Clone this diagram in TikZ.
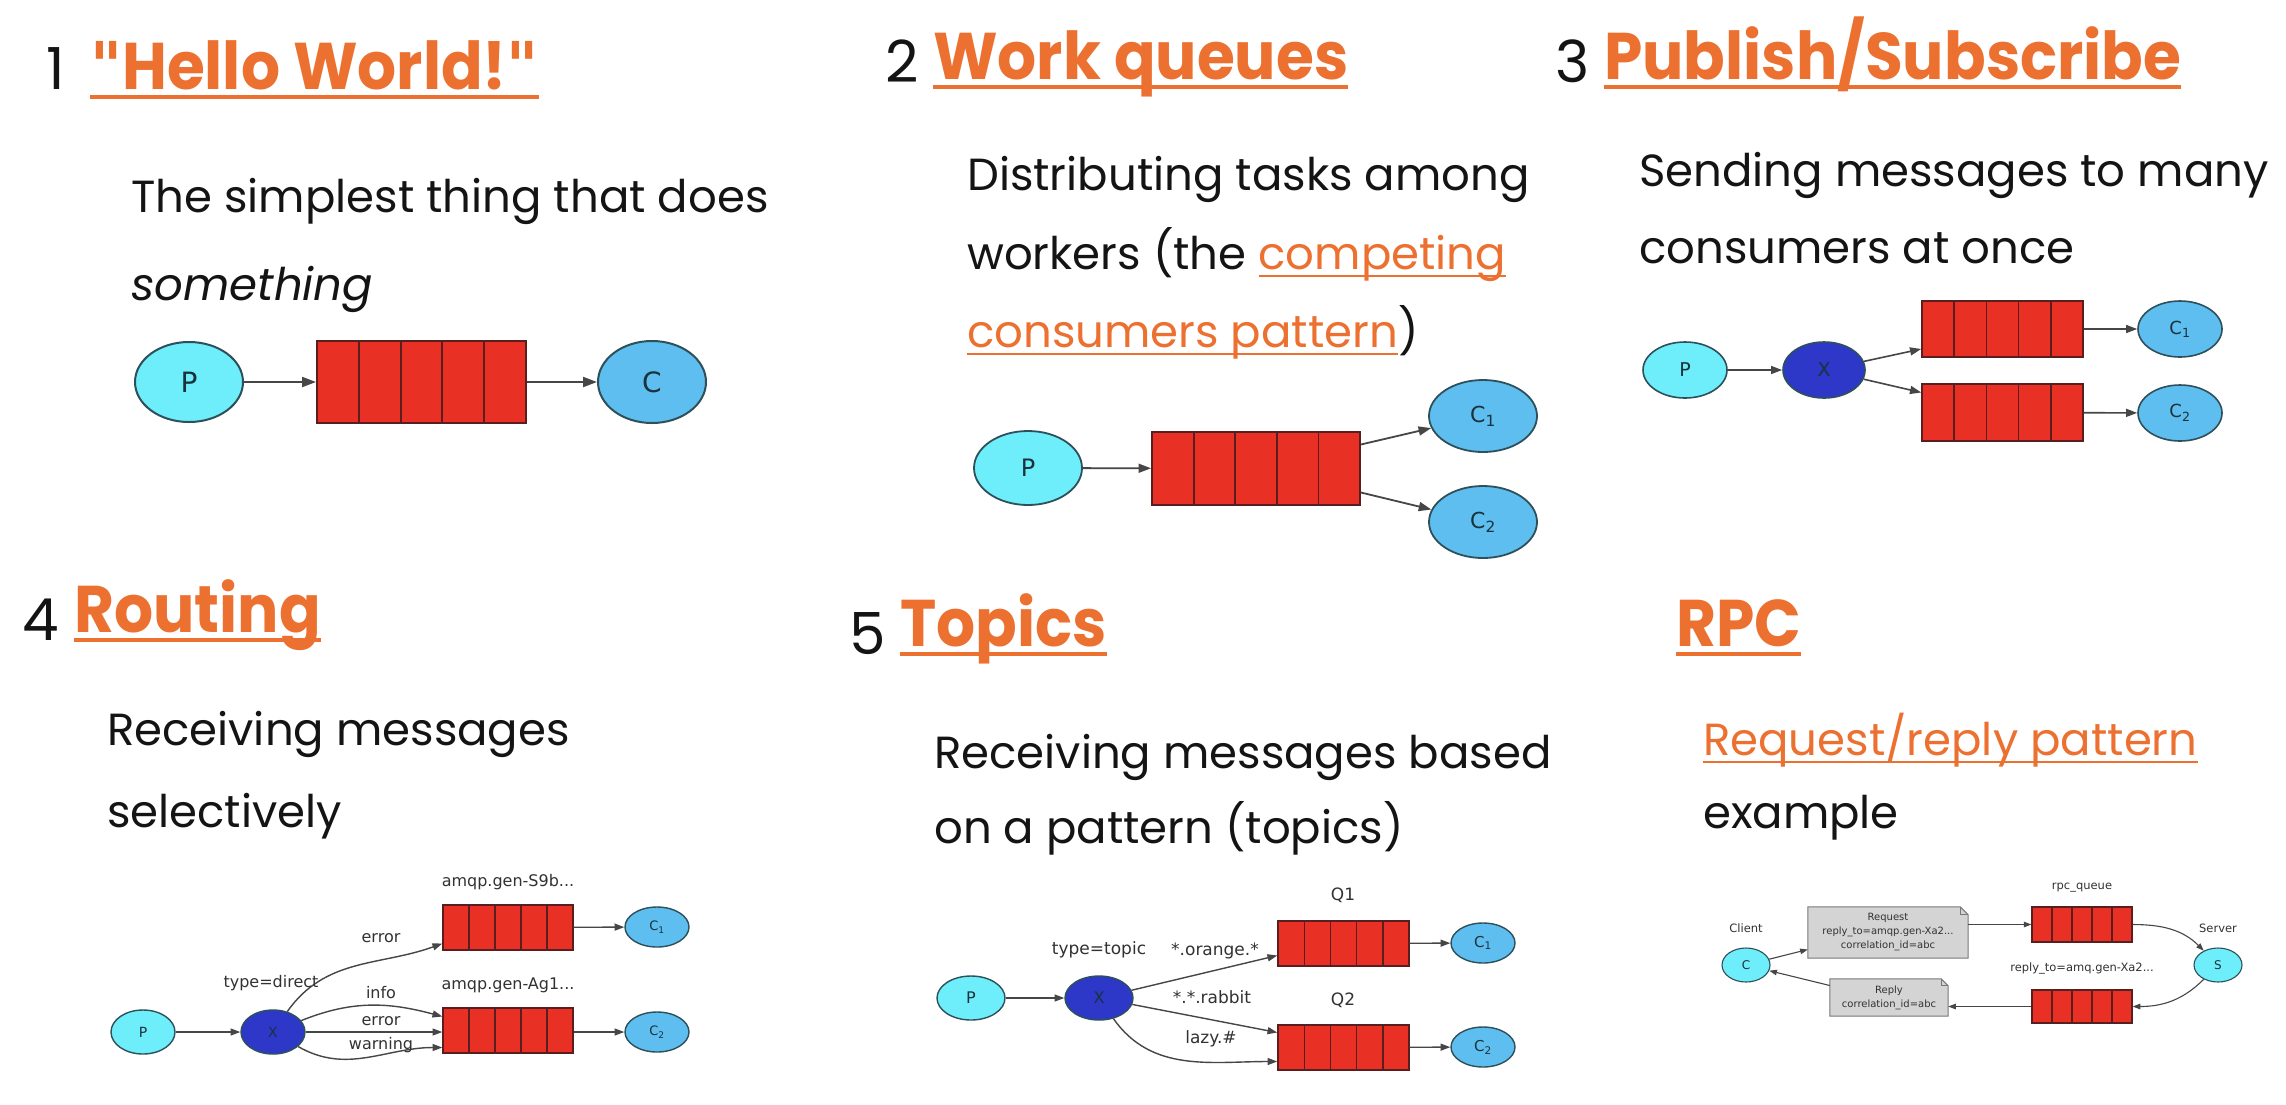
\documentclass[tikz,border=0pt]{standalone}
\usepackage{graphicx}
\usepackage{fontspec}
\setmainfont{Poppins}
\newfontfamily\gv{DejaVu Sans}
\usetikzlibrary{shapes.geometric,arrows.meta,calc}
\pgfdeclarelayer{background}
\pgfsetlayers{background,main}
\definecolor{rmqorange}{RGB}{236,112,48}
\definecolor{bodytext}{RGB}{20,20,20}
\definecolor{pfill}{RGB}{110,238,250}
\definecolor{cfill}{RGB}{95,190,240}
\definecolor{xfill}{RGB}{45,55,200}
\definecolor{qfill}{RGB}{232,48,36}
\definecolor{qline}{RGB}{90,30,30}
\definecolor{eline}{RGB}{45,80,90}
\definecolor{edgec}{RGB}{70,70,70}
\definecolor{notefill}{RGB}{212,212,212}
\definecolor{noteline}{RGB}{120,120,120}
\definecolor{gvtext}{RGB}{25,50,60}
\definecolor{lbltext}{RGB}{50,50,50}
\newcommand\ultitle[1]{\scalebox{0.93}[1]{\color{rmqorange}\bfseries\setbox0=\hbox{#1}\rlap{\rule[-10pt]{\wd0}{4.5pt}}\box0}}
\newcommand\ulink[1]{{\color{rmqorange}\setbox0=\hbox{#1}\rlap{\rule[-8pt]{\wd0}{2.5pt}}\box0}}
\newcommand\drawnote[2]{%
  \begin{pgfonlayer}{background}
  \filldraw[fill=notefill, draw=noteline, line width=1pt] (#1.south west) -- (#1.north west) -- ([xshift=-#2]#1.north east) -- ([yshift=-#2]#1.north east) -- (#1.south east) -- cycle;
  \draw[noteline, line width=1pt] ([xshift=-#2]#1.north east) -- ([xshift=-#2,yshift=-#2]#1.north east) -- ([yshift=-#2]#1.north east);
  \end{pgfonlayer}}
\tikzset{
  num/.style={anchor=base west, inner sep=0pt, text=bodytext, font=\fontsize{58}{62}\selectfont},
  title/.style={anchor=base west, inner sep=0pt, font=\fontsize{66}{70}\selectfont},
  body/.style={anchor=base west, inner sep=0pt, text=bodytext, font=\fontsize{45}{52}\selectfont},
  ell/.style={ellipse, draw=eline, line width=#1, inner sep=0pt, text=gvtext},
  pnode/.style={ell=#1, fill=pfill},
  cnode/.style={ell=#1, fill=cfill},
  xnode/.style={ell=#1, fill=xfill},
  queue/.style={rectangle, draw=qline, fill=qfill, line width=#1, inner sep=0pt,
    path picture={\foreach \i in {1,2,3,4}{\draw[qline, line width=#1]
      ($(path picture bounding box.north west)!\i/5!(path picture bounding box.north east)$) --
      ($(path picture bounding box.south west)!\i/5!(path picture bounding box.south east)$);}}},
  flow/.style={draw=edgec, line width=#1, -{Triangle[length=0pt 7, width=0pt 5]}},
  lbl/.style={inner sep=0pt, text=lbltext, font=\gv\fontsize{#1}{#1}\selectfont},
  notebox/.style={inner sep=0pt, align=center, text=lbltext, font=\gv\fontsize{10}{14}\selectfont},
}
\begin{document}
\begin{tikzpicture}[x=1pt, y=-1pt]
\begin{pgfonlayer}{background}
\fill[white] (0,0) rectangle (2286,1104);
\end{pgfonlayer}
\useasboundingbox (0,0) rectangle (2286,1104);

% ---------- Section 1 ----------
\node[num] (n1) at (46,89) {1};
\node[title] (t1) at (90,89) {\ultitle{{\gv"}Hello World!{\gv"}}};
\node[body] (b11) at (131,212) {The simplest thing that does};
\node[body] (b12) at (131,300) {\itshape something};
\node[pnode=2pt, minimum width=108pt, minimum height=80pt, font=\gv\fontsize{28}{30}\selectfont] (p1) at (189,382) {P};
\node[queue=2pt, minimum width=209pt, minimum height=82pt] (q1) at (421.5,382) {};
\node[cnode=2pt, minimum width=108pt, minimum height=82pt, font=\gv\fontsize{28}{30}\selectfont] (c1) at (652,382) {C};
\draw[flow=2pt] (p1) -- (q1);
\draw[flow=2pt] (q1) -- (c1);

% ---------- Section 2 ----------
\node[num] (n2) at (885,82) {2};
\node[title] (t2) at (933,79) {\ultitle{Work queues}};
\node[body] (b21) at (967,190) {Distributing tasks among};
\node[body] (b22) at (967,269) {workers (the \ulink{competing}};
\node[body] (b23) at (967,347) {\ulink{consumers pattern})};
\node[pnode=1.8pt, minimum width=108pt, minimum height=74pt, font=\gv\fontsize{24}{26}\selectfont] (p2) at (1028,468) {P};
\node[queue=1.8pt, minimum width=208pt, minimum height=73pt] (q2) at (1256,468.5) {};
\node[cnode=1.8pt, minimum width=108pt, minimum height=72pt, font=\gv\fontsize{22}{24}\selectfont] (c21) at (1483,416) {C\textsubscript{1}};
\node[cnode=1.8pt, minimum width=108pt, minimum height=72pt, font=\gv\fontsize{22}{24}\selectfont] (c22) at (1483,522) {C\textsubscript{2}};
\draw[flow=1.8pt] (p2) -- (q2);
\draw[flow=1.8pt] ([yshift=24pt]q2.east) -- (c21);
\draw[flow=1.8pt] ([yshift=-24pt]q2.east) -- (c22);

% ---------- Section 3 ----------
\node[num] (n3) at (1555,82) {3};
\node[title] (t3) at (1604,79) {\ultitle{Publish/Subscribe}};
\node[body] (b31) at (1639,186) {Sending messages to many};
\node[body] (b32) at (1639,263) {consumers at once};
\node[pnode=1.6pt, minimum width=84pt, minimum height=56pt, font=\gv\fontsize{19}{21}\selectfont] (p3) at (1685,370) {P};
\node[xnode=1.6pt, minimum width=82pt, minimum height=56pt, font=\gv\fontsize{19}{21}\selectfont] (x3) at (1824,370) {X};
\node[queue=1.6pt, minimum width=161pt, minimum height=56pt] (q31) at (2002.5,329) {};
\node[queue=1.6pt, minimum width=161pt, minimum height=57pt] (q32) at (2002.5,412.5) {};
\node[cnode=1.6pt, minimum width=84pt, minimum height=56pt, font=\gv\fontsize{18}{20}\selectfont] (c31) at (2180,329) {C\textsubscript{1}};
\node[cnode=1.6pt, minimum width=84pt, minimum height=56pt, font=\gv\fontsize{18}{20}\selectfont] (c32) at (2180,413) {C\textsubscript{2}};
\draw[flow=1.6pt] (p3) -- (x3);
\draw[flow=1.6pt] (x3) -- ([yshift=-20pt]q31.west);
\draw[flow=1.6pt] (x3) -- ([yshift=20pt]q32.west);
\draw[flow=1.6pt] (q31) -- (c31);
\draw[flow=1.6pt] (q32) -- (c32);

% ---------- Section 4 ----------
\node[num] (n4) at (22,640) {4};
\node[title] (t4) at (74,632) {\ultitle{Routing}};
\node[body] (b41) at (107,745) {Receiving messages};
\node[body] (b42) at (107,827) {selectively};
\node[pnode=1.4pt, minimum width=64pt, minimum height=44pt, font=\gv\fontsize{14}{16}\selectfont] (p4) at (143,1032) {P};
\node[xnode=1.4pt, minimum width=64pt, minimum height=44pt, font=\gv\fontsize{14}{16}\selectfont] (x4) at (273,1032) {X};
\node[queue=1.4pt, minimum width=130pt, minimum height=45pt] (q41) at (508,927.5) {};
\node[queue=1.4pt, minimum width=130pt, minimum height=45pt] (q42) at (508,1030.5) {};
\node[cnode=1.4pt, minimum width=64pt, minimum height=40pt, font=\gv\fontsize{13}{15}\selectfont] (c41) at (657,927) {C\textsubscript{1}};
\node[cnode=1.4pt, minimum width=64pt, minimum height=40pt, font=\gv\fontsize{13}{15}\selectfont] (c42) at (657,1032) {C\textsubscript{2}};
\draw[flow=1.4pt] (p4) -- (x4);
\draw[flow=1.4pt] (x4) to[out=55,in=200] ([yshift=-16pt]q41.west);
\draw[flow=1.4pt] (x4) to[out=22,in=165] ([yshift=14pt]q42.west);
\draw[flow=1.4pt] (x4) -- (x4 -| q42.west);
\draw[flow=1.4pt] (x4) to[out=-30,in=180] ([yshift=-17pt]q42.west);
\draw[flow=1.4pt] (q41) -- (c41);
\draw[flow=1.4pt] (q42.east |- c42) -- (c42);
\node[lbl=16] (l41) at (508,882) {amqp.gen-S9b...};
\node[lbl=16] (l42) at (508,985) {amqp.gen-Ag1...};
\node[lbl=16] (l43) at (271,983) {type=direct};
\node[lbl=16] (l44) at (381,938) {error};
\node[lbl=16] (l45) at (381,993) {info};
\node[lbl=16] (l46) at (381,1021) {error};
\node[lbl=16] (l47) at (381,1045) {warning};

% ---------- Section 5 ----------
\node[num] (n5) at (849,654) {5};
\node[title] (t5) at (900,646) {\ultitle{Topics}};
\node[body] (b51) at (934,768) {Receiving messages based};
\node[body] (b52) at (934,843) {on a pattern (topics)};
\node[pnode=1.4pt, minimum width=68pt, minimum height=44pt, font=\gv\fontsize{16}{18}\selectfont] (p5) at (971,998) {P};
\node[xnode=1.4pt, minimum width=68pt, minimum height=44pt, font=\gv\fontsize{16}{18}\selectfont] (x5) at (1099,998) {X};
\node[queue=1.4pt, minimum width=131pt, minimum height=45pt] (q51) at (1343.5,943.5) {};
\node[queue=1.4pt, minimum width=131pt, minimum height=45pt] (q52) at (1343.5,1047.5) {};
\node[cnode=1.4pt, minimum width=64pt, minimum height=40pt, font=\gv\fontsize{15}{17}\selectfont] (c51) at (1483,943) {C\textsubscript{1}};
\node[cnode=1.4pt, minimum width=64pt, minimum height=40pt, font=\gv\fontsize{15}{17}\selectfont] (c52) at (1483,1047) {C\textsubscript{2}};
\draw[flow=1.4pt] (p5) -- (x5);
\draw[flow=1.4pt] (x5) -- ([yshift=-12pt]q51.west);
\draw[flow=1.4pt] (x5) -- ([yshift=15pt]q52.west);
\draw[flow=1.4pt] (x5) to[out=-55,in=180] ([yshift=-14pt]q52.west);
\draw[flow=1.4pt] (q51) -- (c51);
\draw[flow=1.4pt] (q52) -- (c52);
\node[lbl=17] (l51) at (1343,895) {Q1};
\node[lbl=17] (l52) at (1343,1000) {Q2};
\node[lbl=17] (l53) at (1099,950) {type=topic};
\node[lbl=17] (l54) at (1215,951) {*.orange.*};
\node[lbl=17] (l55) at (1212,997) {*.*.rabbit};
\node[lbl=17] (l56) at (1211,1039) {lazy.\#};

% ---------- RPC ----------
\node[title] (t6) at (1676,646) {\ultitle{RPC}};
\node[body] (b61) at (1703,755) {\ulink{Request/reply pattern}};
\node[body] (b62) at (1703,828) {example};
\node[pnode=1.1pt, minimum width=48pt, minimum height=34pt, font=\gv\fontsize{12}{14}\selectfont] (cr) at (1746,965) {C};
\node[pnode=1.1pt, minimum width=48pt, minimum height=34pt, font=\gv\fontsize{12}{14}\selectfont] (sr) at (2218,965) {S};
\node[notebox, minimum width=160pt, minimum height=51pt] (req) at (1888,932.5) {Request\\reply\_to=amqp.gen-Xa2...\\correlation\_id=abc};
\drawnote{req}{8pt}
\node[queue=1.1pt, minimum width=100pt, minimum height=35pt] (rpcq) at (2082,924.5) {};
\node[queue=1.1pt, minimum width=100pt, minimum height=33pt] (repq) at (2082,1006.5) {};
\node[notebox, minimum width=118pt, minimum height=37pt] (rep) at (1889,997.5) {Reply\\correlation\_id=abc};
\drawnote{rep}{7pt}
\draw[flow=1.1pt] (cr) -- ([yshift=-17pt]req.west);
\draw[flow=1.1pt] (rpcq.west -| req.east) -- (rpcq.west);
\draw[flow=1.1pt] (rpcq.east) to[out=0,in=135] (sr);
\draw[flow=1.1pt] (sr) to[out=-135,in=0] (repq.east);
\draw[flow=1.1pt] (repq.west) -- (repq.west -| rep.east);
\draw[flow=1.1pt] ([yshift=12pt]rep.west) -- (cr);
\node[lbl=11.5] (l61) at (1746,928) {Client};
\node[lbl=11.5] (l62) at (2218,928) {Server};
\node[lbl=11.5] (l63) at (2082,888) {rpc\_queue};
\node[lbl=11.5] (l64) at (2082,968) {reply\_to=amq.gen-Xa2...};
\end{tikzpicture}
\end{document}
